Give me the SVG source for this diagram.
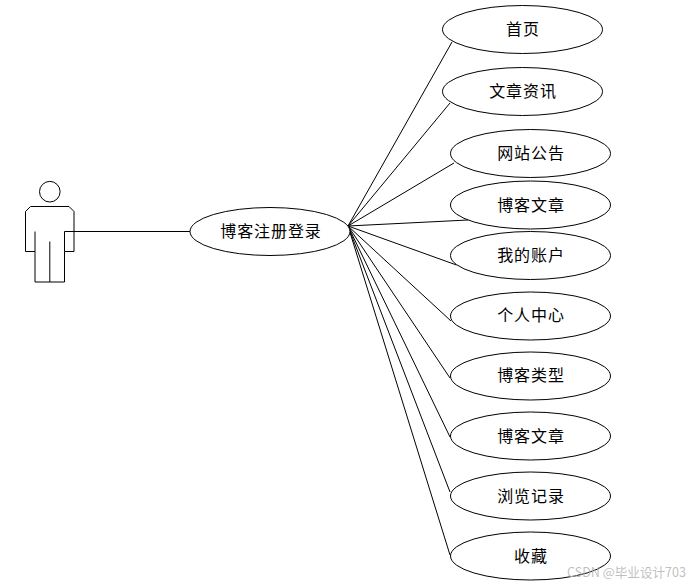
<svg xmlns="http://www.w3.org/2000/svg" width="695" height="586" viewBox="0 0 695 586">
<style>
.s{fill:#fff;stroke:#000;stroke-width:1}
.c{fill:none;stroke:#000;stroke-width:1}
text{font-family:"Noto Sans CJK SC","Liberation Sans",sans-serif;font-size:16px;letter-spacing:.9px;text-anchor:middle;fill:#000}
.w{font-size:12.6px;letter-spacing:0;fill:#b4b4b4;fill-opacity:.85;text-anchor:start}
</style>
<rect width="695" height="586" fill="#fff"/>
<g id="actor">
<circle class="s" cx="49.8" cy="191.7" r="10.3"/>
<path class="s" d="M30.5 206.5H69L74 211.5V251.5H64.5V282H35V251.5H25.500V211.5Z"/>
<path class="c" d="M35 231.500V251.500M64.500 231.500V251.500M49.800 241.500V282"/>
</g>
<g id="connectors">
<path class="c" d="M64.500 231.500H190"/>
<path class="c" d="M348 226L452 42M348 226L450 103M348 226L454 163M348 226L468 220M348 226L456.500 265M348 226L451 321M348 226L450 378M348 226L450 437M348 226L450 492M348 226L450 555"/>
</g>
<g id="main"><ellipse class="s" cx="270" cy="231.500" rx="80" ry="24"/><text x="271" y="237">博客注册登录</text></g>
<g id="n1"><ellipse class="s" cx="522.500" cy="29.500" rx="80" ry="24"/><text x="523" y="35">首页</text></g>
<g id="n2"><ellipse class="s" cx="522.500" cy="91.500" rx="80" ry="24"/><text x="523" y="97">文章资讯</text></g>
<g id="n3"><ellipse class="s" cx="530.500" cy="153.500" rx="80" ry="24"/><text x="531" y="159">网站公告</text></g>
<g id="n4"><ellipse class="s" cx="530.500" cy="205" rx="80" ry="24"/><text x="531" y="211">博客文章</text></g>
<g id="n5"><ellipse class="s" cx="530.500" cy="255.500" rx="80" ry="24"/><text x="531" y="261">我的账户</text></g>
<g id="n6"><ellipse class="s" cx="530.500" cy="316" rx="80" ry="24"/><text x="531" y="321">个人中心</text></g>
<g id="n7"><ellipse class="s" cx="530.500" cy="376" rx="80" ry="24"/><text x="531" y="381">博客类型</text></g>
<g id="n8"><ellipse class="s" cx="530.500" cy="436" rx="80" ry="24"/><text x="531" y="441.500">博客文章</text></g>
<g id="n9"><ellipse class="s" cx="530.500" cy="496" rx="80" ry="24"/><text x="531" y="501.500">浏览记录</text></g>
<g id="n10"><ellipse class="s" cx="530.500" cy="556" rx="80" ry="24"/><text x="531" y="561.500">收藏</text></g>
<text class="w" x="567" y="576.500">CSDN @毕业设计703</text>
</svg>
